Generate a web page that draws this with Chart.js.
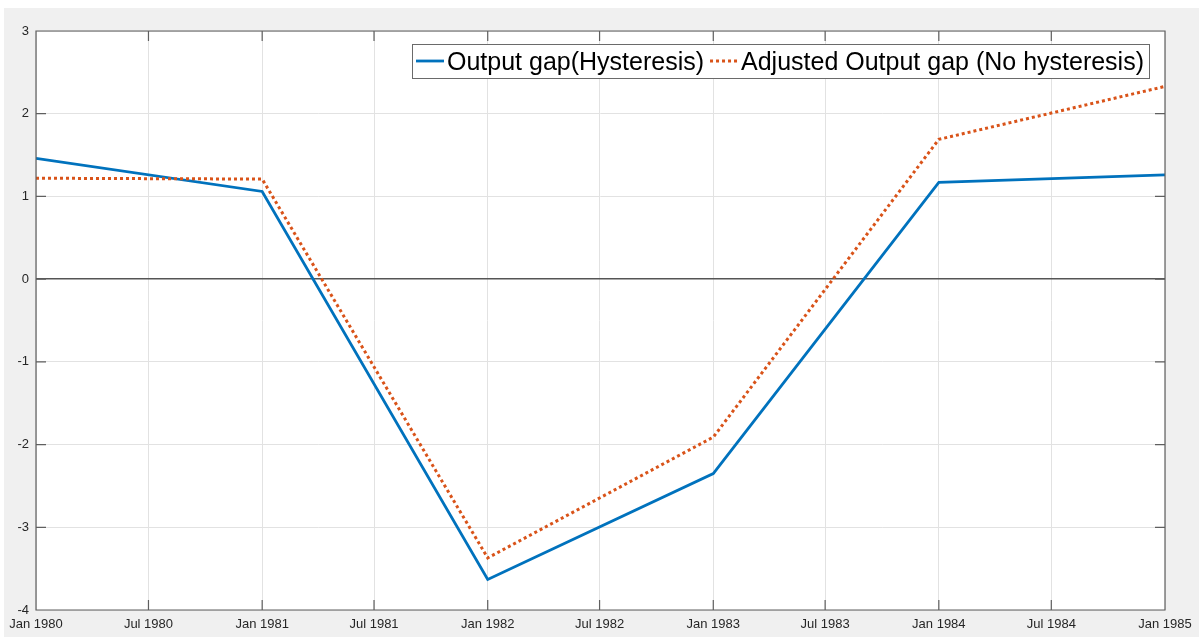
<!DOCTYPE html>
<html>
<head>
<meta charset="utf-8">
<script src="https://cdn.jsdelivr.net/npm/chart.js@4.4.1/dist/chart.umd.min.js"></script>
<style>
  html, body { margin: 0; padding: 0; background: #ffffff; }
  #wrap { position: relative; width: 1199px; height: 637px; }
</style>
</head>
<body>
<div id="wrap"><canvas id="c" width="1199" height="637"></canvas></div>
<script>
// ---- data ----
const categories = ['1980-01-01', '1981-01-01', '1982-01-01', '1983-01-01', '1984-01-01', '1985-01-01'];
const outputGapHysteresis = [1.46, 1.06, -3.63, -2.35, 1.17, 1.26];
const adjustedOutputGap = [1.22, 1.21, -3.37, -1.91, 1.69, 2.33];
const seriesNames = ['Output gap(Hysteresis)', 'Adjusted Output gap (No hysteresis)'];
const xTickDates = ['1980-01-01', '1980-07-01', '1981-01-01', '1981-07-01', '1982-01-01', '1982-07-01',
                    '1983-01-01', '1983-07-01', '1984-01-01', '1984-07-01', '1985-01-01'];
const xTickLabels = ['Jan 1980', 'Jul 1980', 'Jan 1981', 'Jul 1981', 'Jan 1982', 'Jul 1982',
                     'Jan 1983', 'Jul 1983', 'Jan 1984', 'Jul 1984', 'Jan 1985'];
const yTickValues = [-4, -3, -2, -1, 0, 1, 2, 3];

// ---- helpers ----
const DAY = 86400000;
const origin = Date.parse('1980-01-01T00:00:00Z');
const toDay = s => (Date.parse(s + 'T00:00:00Z') - origin) / DAY;
const xTickValues = xTickDates.map(toDay);
const toPoints = vals => categories.map((c, i) => ({ x: toDay(c), y: vals[i] }));

const FONT = "'Liberation Sans', Arial, Helvetica, sans-serif";
Chart.defaults.font.family = FONT;

const AXIS_COLOR = '#5f5f5f';
const TICK_LEN = 10;

const matlabFrame = {
  id: 'matlabFrame',
  beforeDraw(chart) {
    const ctx = chart.ctx, a = chart.chartArea;
    ctx.save();
    ctx.fillStyle = '#ffffff';
    ctx.fillRect(0, 0, chart.width, chart.height);
    ctx.fillStyle = '#f0f0f0';
    ctx.fillRect(4, 8, chart.width - 4, chart.height - 8);
    ctx.fillStyle = '#ffffff';
    ctx.fillRect(a.left, a.top, a.right - a.left, a.bottom - a.top);
    ctx.restore();
  },
  afterDatasetsDraw(chart) {
    const ctx = chart.ctx, a = chart.chartArea;
    const xs = chart.scales.x, ys = chart.scales.y;
    ctx.save();
    ctx.strokeStyle = AXIS_COLOR;
    ctx.lineWidth = 1.2;
    ctx.beginPath();
    ctx.rect(a.left, a.top, a.right - a.left, a.bottom - a.top);
    ctx.stroke();
    ctx.beginPath();
    xs.ticks.forEach(t => {
      const px = xs.getPixelForValue(t.value);
      if (px <= a.left + 1 || px >= a.right - 1) return;
      ctx.moveTo(px, a.bottom); ctx.lineTo(px, a.bottom - TICK_LEN);
      ctx.moveTo(px, a.top); ctx.lineTo(px, a.top + TICK_LEN);
    });
    ys.ticks.forEach(t => {
      const py = ys.getPixelForValue(t.value);
      if (py <= a.top + 1 || py >= a.bottom - 1) return;
      ctx.moveTo(a.left, py); ctx.lineTo(a.left + TICK_LEN, py);
      ctx.moveTo(a.right, py); ctx.lineTo(a.right - TICK_LEN, py);
    });
    ctx.stroke();
    ctx.restore();
  },
  afterDraw(chart) {
    // legend box in the top-right corner of the axes
    const ctx = chart.ctx, a = chart.chartArea;
    const ds = chart.data.datasets;
    ctx.save();
    ctx.font = '25px ' + FONT;
    const padL = 4, sample = 28, gapST = 3, gapItems = 6, padR = 5;
    let total = padL;
    const widths = ds.map(d => ctx.measureText(d.label).width);
    ds.forEach((d, i) => {
      total += sample + gapST + widths[i];
      if (i < ds.length - 1) total += gapItems;
    });
    total += padR;
    const right = a.right - 16, top = a.top + 13, h = 34;
    const left = right - total;
    ctx.fillStyle = '#ffffff';
    ctx.fillRect(left, top, total, h);
    ctx.strokeStyle = '#6a6a6a';
    ctx.lineWidth = 1;
    ctx.strokeRect(Math.round(left) + 0.5, top + 0.5, Math.round(total), h);
    let x = left + padL;
    const midY = top + h / 2;
    ds.forEach((d, i) => {
      ctx.beginPath();
      ctx.strokeStyle = d.borderColor;
      ctx.lineWidth = d.borderWidth;
      ctx.lineCap = 'butt';
      ctx.setLineDash(d.borderDash || []);
      ctx.moveTo(x, midY); ctx.lineTo(x + sample, midY);
      ctx.stroke();
      ctx.setLineDash([]);
      x += sample + gapST;
      ctx.fillStyle = '#000000';
      ctx.textBaseline = 'alphabetic';
      ctx.textAlign = 'left';
      ctx.fillText(d.label, x, top + 26);
      x += widths[i] + gapItems;
    });
    ctx.restore();
  }
};

new Chart(document.getElementById('c'), {
  type: 'line',
  data: {
    datasets: [
      {
        label: seriesNames[0],
        data: toPoints(outputGapHysteresis),
        borderColor: '#0072BD',
        backgroundColor: '#0072BD',
        borderWidth: 2.8,
        pointRadius: 0,
        tension: 0,
        fill: false,
        order: 1
      },
      {
        label: seriesNames[1],
        data: toPoints(adjustedOutputGap),
        borderColor: '#D95319',
        backgroundColor: '#D95319',
        borderWidth: 3,
        borderDash: [3, 3],
        borderCapStyle: 'butt',
        pointRadius: 0,
        tension: 0,
        fill: false,
        order: 0
      }
    ]
  },
  options: {
    responsive: false,
    animation: false,
    layout: { padding: { left: 0, top: 31, right: 34, bottom: 0 } },
    plugins: {
      legend: { display: false },
      tooltip: { enabled: false }
    },
    scales: {
      x: {
        type: 'linear',
        min: xTickValues[0],
        max: xTickValues[xTickValues.length - 1],
        afterBuildTicks(scale) { scale.ticks = xTickValues.map(v => ({ value: v })); },
        afterFit(scale) { scale.height = 27; },
        ticks: {
          autoSkip: false,
          maxRotation: 0,
          minRotation: 0,
          padding: 7,
          color: '#262626',
          font: { size: 13 },
          callback(value) {
            const i = xTickValues.indexOf(value);
            return i >= 0 ? xTickLabels[i] : '';
          }
        },
        grid: { color: '#e2e2e2', lineWidth: 1, drawTicks: false },
        border: { display: false }
      },
      y: {
        type: 'linear',
        min: yTickValues[0],
        max: yTickValues[yTickValues.length - 1],
        afterBuildTicks(scale) { scale.ticks = yTickValues.map(v => ({ value: v })); },
        afterFit(scale) { scale.width = 36; },
        ticks: {
          padding: 7,
          color: '#262626',
          font: { size: 13 }
        },
        grid: {
          drawTicks: false,
          color: ctx => (ctx.tick && ctx.tick.value === 0) ? '#555555' : '#e2e2e2',
          lineWidth: ctx => (ctx.tick && ctx.tick.value === 0) ? 1.6 : 1
        },
        border: { display: false }
      }
    }
  },
  plugins: [matlabFrame]
});
</script>
</body>
</html>
